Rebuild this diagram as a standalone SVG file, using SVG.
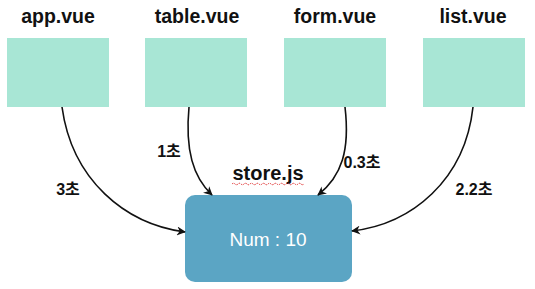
<svg xmlns="http://www.w3.org/2000/svg" width="535" height="289" viewBox="0 0 535 289">
<defs>
<marker id="arr" viewBox="0 0 10 10" refX="9" refY="5" markerWidth="9" markerHeight="9" markerUnits="userSpaceOnUse" orient="auto">
<path d="M0,0 L10,5 L0,10 L3,5 Z" fill="#111"/>
</marker>
<style>
.comp{fill:#a8e6d5}
.title{font-family:"Liberation Sans",Arial,sans-serif;font-weight:bold;font-size:19.5px;fill:#111;text-anchor:middle}
.lbl{font-family:"Liberation Sans","Noto Sans CJK KR",sans-serif;font-weight:bold;font-size:16px;fill:#111;text-anchor:middle}
.conn{fill:none;stroke:#111;stroke-width:1.6;marker-end:url(#arr)}
</style>
</defs>
<rect width="535" height="289" fill="#fff"/>
<g id="app">
<text class="title" x="58" y="23">app.vue</text>
<rect class="comp" x="7" y="38" width="102" height="69"/>
</g>
<g id="table">
<text class="title" x="197" y="23">table.vue</text>
<rect class="comp" x="145" y="38" width="102" height="69"/>
</g>
<g id="form">
<text class="title" x="335" y="23">form.vue</text>
<rect class="comp" x="284" y="38" width="102" height="69"/>
</g>
<g id="list">
<text class="title" x="473" y="23">list.vue</text>
<rect class="comp" x="423" y="38" width="102" height="69"/>
</g>
<g id="store">
<text class="title" x="268" y="180" style="font-size:20px">store.js</text>
<path d="M232,184 q1.5,-1.5 3,0 t3,0 t3,0 t3,0 t3,0 t3,0 t3,0 t3,0 t3,0 t3,0 t3,0 t3,0 t3,0 t3,0 t3,0 t3,0 t3,0 t3,0 t3,0 t3,0 t3,0 t3,0 t3,0 t3,0" fill="none" stroke="#e03030" stroke-width="1" stroke-dasharray="1.5 1"/>
<rect x="185" y="195" width="167" height="87" rx="10" fill="#5ba5c4"/>
<text x="268" y="246" font-family="Liberation Sans,Arial,sans-serif" font-size="19" fill="#fff" text-anchor="middle">Num : 10</text>
</g>
<g id="connectors">
<path class="conn" d="M62,107 C72,180 125,224 185,232"/>
<path class="conn" d="M189,107 C185,150 193,177 212,195"/>
<path class="conn" d="M345,107 C350,150 342,176 318,195"/>
<path class="conn" d="M473,107 C465,180 412,224 352,231"/>
<text class="lbl" x="68" y="195">3초</text>
<text class="lbl" x="169" y="157">1초</text>
<text class="lbl" x="362" y="168">0.3초</text>
<text class="lbl" x="474" y="195">2.2초</text>
</g>
</svg>
